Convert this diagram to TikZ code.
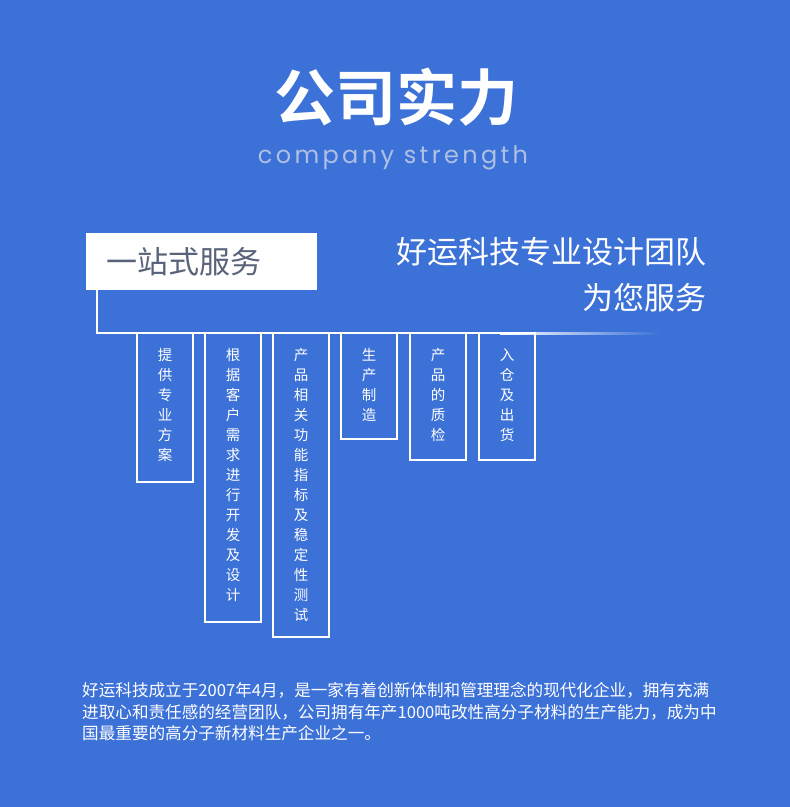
\documentclass[tikz,border=0pt]{standalone}
\usepackage{fontspec}
\setmainfont{Noto Sans CJK SC}
\newfontfamily\cjkb{Noto Sans CJK SC Bold}
\newfontfamily\latn[LetterSpace=14]{Poppins}
\definecolor{bg}{HTML}{3C71D8}
\definecolor{graytxt}{HTML}{59637A}
\definecolor{subtxt}{HTML}{AFC0E4}
\begin{document}
\begin{tikzpicture}[x=1pt,y=-1pt,
  vbox/.style={draw=white,line width=1.6pt},
  vtxt/.style={text=white,font=\fontsize{14.5}{20}\selectfont,align=center,anchor=north,inner sep=0pt},
  para/.style={text=white,font=\fontsize{16.6}{20}\selectfont,anchor=west,inner sep=0pt}]
\fill[bg] (0,0) rectangle (790,807);
\useasboundingbox (0,0) rectangle (790,807);
\node[text=white,font=\cjkb\fontsize{61}{64}\selectfont] (title) at (396,97) {公司实力};
\node[text=subtxt,font=\latn\fontsize{24}{26}\selectfont] (sub) at (393,158) {company strength};
% connector lines
\coordinate (c1) at (97,290);
\coordinate (c2) at (97,333);
\coordinate (c3) at (500,333);
\draw[white,line width=2pt] (c1) -- (c2) -- (c3);
\shade[left color=white,right color=bg] (500,332) rectangle (660,334);
\fill[white] (86,233) rectangle (317,290);
\node[text=graytxt,font=\fontsize{31}{34}\selectfont,anchor=west] (one) at (103,262) {一站式服务};
\node[text=white,font=\fontsize{31}{34}\selectfont,anchor=east] (r1) at (710,252) {好运科技专业设计团队};
\node[text=white,font=\fontsize{31}{34}\selectfont,anchor=east] (r2) at (710,298) {为您服务};
% boxes
\foreach \n/\xa/\yb/\t in {a/137/482/{提\\供\\专\\业\\方\\案},
  b/205/622/{根\\据\\客\\户\\需\\求\\进\\行\\开\\发\\及\\设\\计},
  c/273/637/{产\\品\\相\\关\\功\\能\\指\\标\\及\\稳\\定\\性\\测\\试},
  d/341/439/{生\\产\\制\\造},
  e/410/460/{产\\品\\的\\质\\检},
  f/479/460/{入\\仓\\及\\出\\货}}{
  \draw[vbox] (\xa,333) rectangle ++(56,\yb-333);
  \node[vtxt] (t\n) at (\xa+28,348) {\t};
}
\node[para] (p1) at (82,690) {好运科技成立于2007年4月，是一家有着创新体制和管理理念的现代化企业，拥有充满};
\node[para] (p2) at (82,712) {进取心和责任感的经营团队，公司拥有年产1000吨改性高分子材料的生产能力，成为中};
\node[para] (p3) at (82,733) {国最重要的高分子新材料生产企业之一。};
\end{tikzpicture}
\end{document}
